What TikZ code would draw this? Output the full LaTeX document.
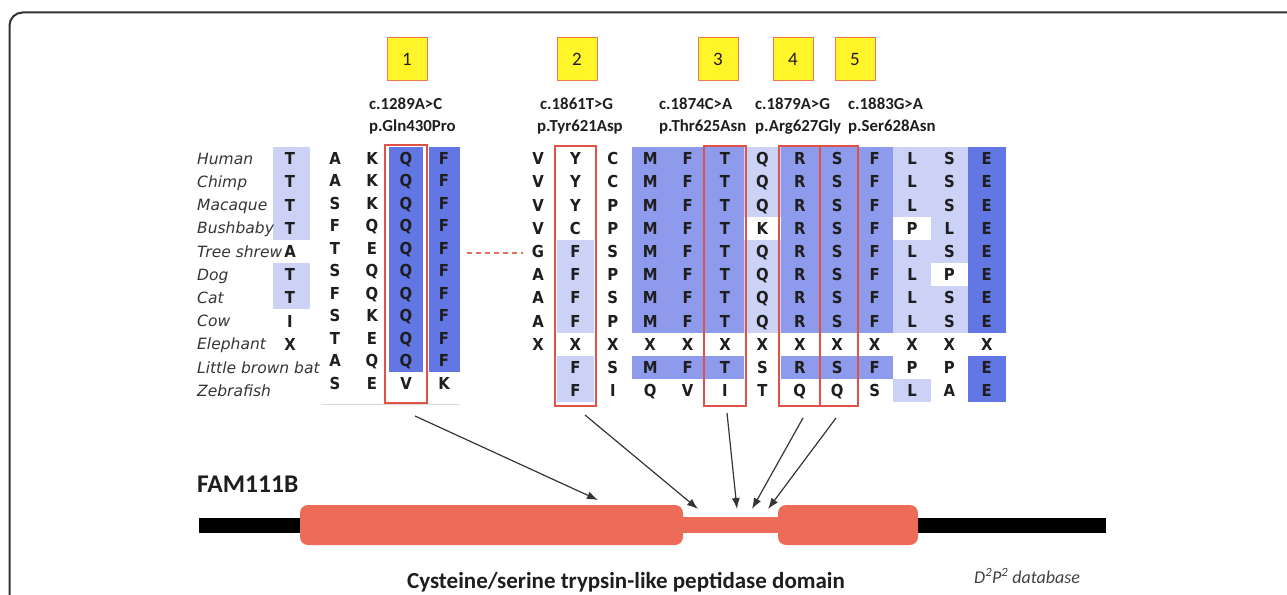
\documentclass[tikz,border=0pt]{standalone}
\usepackage{fontspec}
\setmainfont{Carlito}
\newfontfamily\aafont[FakeStretch=0.9]{DejaVu Sans}
\newfontfamily\spfont{DejaVu Sans}
\usetikzlibrary{arrows.meta}

\definecolor{cellL}{RGB}{204,210,246}
\definecolor{cellM}{RGB}{142,155,236}
\definecolor{cellD}{RGB}{98,118,228}
\definecolor{boxred}{RGB}{224,82,72}
\definecolor{numfill}{RGB}{255,245,40}
\definecolor{numedge}{RGB}{236,120,80}
\definecolor{gene}{RGB}{236,108,88}
\definecolor{framec}{RGB}{50,50,50}
\definecolor{ink}{RGB}{30,30,30}

% column centre of the right-hand alignment block
\newcommand\rcx[1]{538+37.4*(#1)}
% shaded run of cells in the right block: first col, last col, first row, last row, colour
\newcommand\cellrun[5]{\fill[#5] ({\rcx{#1}-18.7},{147+23.2*(#3)}) rectangle ({\rcx{#2}+18.7},{147+23.2*(#4+1)});}

\tikzset{
  aa/.style={font=\aafont\bfseries\fontsize{16.5}{17}\selectfont, text=ink, inner sep=0pt, text height=12pt, text depth=0pt},
  sp/.style={font=\spfont\itshape\fontsize{15.5}{16}\selectfont, text=ink!90, inner sep=0pt, anchor=west, text height=11.3pt, text depth=0pt},
  mut/.style={font=\bfseries\fontsize{16.8}{17}\selectfont, text=ink, inner sep=0pt, anchor=base west},
  numbox/.style={draw=numedge, line width=1pt, fill=numfill, minimum width=40pt, minimum height=42pt, inner sep=0pt, font=\fontsize{19}{20}\selectfont, text=ink},
  redcol/.style={draw=boxred, line width=1.8pt},
  pointer/.style={draw=ink!90, line width=1.2pt, -{Latex[length=11pt,width=8pt]}},
}

\begin{document}
\begin{tikzpicture}[x=1pt,y=-1pt]
\useasboundingbox (0,0) rectangle (1287,594);

% outer frame
\draw[framec, line width=2pt, rounded corners=13pt] (9.5,12.5) rectangle (1310,720);

% ---------- left alignment block: shading ----------
\fill[cellL] (273,147) rectangle (310,{147+23.2*4});
\fill[cellL] (273,{147+23.2*5}) rectangle (310,{147+23.2*7});
\fill[cellD] (389,147) rectangle (423,{147+22.5*10});
\fill[cellD] (429,147) rectangle (460,{147+22.5*10});
\draw[gray!30, line width=0.8pt] (322,404) -- (460,404);

% ---------- right alignment block: shading ----------
\cellrun{3}{5}{0}{7}{cellM}
\cellrun{3}{5}{9}{9}{cellM}
\cellrun{7}{9}{0}{7}{cellM}
\cellrun{7}{9}{9}{9}{cellM}
\cellrun{12}{12}{0}{7}{cellD}
\cellrun{12}{12}{9}{10}{cellD}
\cellrun{1}{1}{4}{7}{cellL}
\cellrun{1}{1}{9}{10}{cellL}
\cellrun{6}{6}{0}{2}{cellL}
\cellrun{6}{6}{4}{7}{cellL}
\cellrun{10}{10}{0}{2}{cellL}
\cellrun{10}{10}{4}{7}{cellL}
\cellrun{10}{10}{10}{10}{cellL}
\cellrun{11}{11}{0}{4}{cellL}
\cellrun{11}{11}{6}{7}{cellL}

% ---------- species names ----------
\foreach \name [count=\i from 0] in {Human,Chimp,Macaque,Bushbaby,Tree shrew,Dog,Cat,Cow,Elephant,Little brown bat,Zebrafish}
  \node[sp] (sp-\i) at (197,{158.6+23.2*\i}) {\name};

% ---------- left block residues ----------
\foreach \ch [count=\i from 0] in {T,T,T,T,A,T,T,I,X}
  \node[aa] (lt-\i) at (290,{158.6+23.2*\i}) {\ch};
\foreach \i/\row in {0/{A,K,Q,F},1/{A,K,Q,F},2/{S,K,Q,F},3/{F,Q,Q,F},4/{T,E,Q,F},5/{S,Q,Q,F},6/{F,Q,Q,F},7/{S,K,Q,F},8/{T,E,Q,F},9/{A,Q,Q,F},10/{S,E,V,K}}
  \foreach \ch [count=\k from 0] in \row {
    \pgfmathsetmacro\lx{{335,372,406,444}[\k]}
    \node[aa] (l-\i-\k) at (\lx,{158.3+22.5*\i}) {\ch};
  }

% ---------- right block residues ----------
\foreach \i/\s/\row in {
  0/0/{V,Y,C,M,F,T,Q,R,S,F,L,S,E},
  1/0/{V,Y,C,M,F,T,Q,R,S,F,L,S,E},
  2/0/{V,Y,P,M,F,T,Q,R,S,F,L,S,E},
  3/0/{V,C,P,M,F,T,K,R,S,F,P,L,E},
  4/0/{G,F,S,M,F,T,Q,R,S,F,L,S,E},
  5/0/{A,F,P,M,F,T,Q,R,S,F,L,P,E},
  6/0/{A,F,S,M,F,T,Q,R,S,F,L,S,E},
  7/0/{A,F,P,M,F,T,Q,R,S,F,L,S,E},
  8/0/{X,X,X,X,X,X,X,X,X,X,X,X,X},
  9/1/{F,S,M,F,T,S,R,S,F,P,P,E},
  10/1/{F,I,Q,V,I,T,Q,Q,S,L,A,E}}
  \foreach \ch [count=\k from \s] in \row
    \node[aa] (r-\i-\k) at ({\rcx{\k}},{158.6+23.2*\i}) {\ch};

% ---------- highlighted columns ----------
\draw[redcol] (385,145) rectangle (427,403);
\draw[redcol] ({\rcx{1}-20.5},146) rectangle ({\rcx{1}+20.5},406);
\draw[redcol] ({\rcx{5}-21},146) rectangle ({\rcx{5}+21},406);
\draw[redcol] ({\rcx{7}-20.5},146) rectangle ({\rcx{7}+20.5},406);
\draw[redcol] ({\rcx{7}+20.5},146) rectangle ({\rcx{8}+20.5},406);

% gap marker between the two blocks
\coordinate (gapA) at (467,253);
\coordinate (gapB) at (523,253);
\draw[boxred!85, line width=1.3pt, dash pattern=on 5pt off 4pt] (gapA) -- (gapB);

% ---------- numbered mutation tags ----------
\node[numbox] (n1) at (407,59) {1};
\node[numbox] (n2) at (577,59) {2};
\node[numbox] (n3) at (718,59) {3};
\node[numbox] (n4) at (793,59) {4};
\node[numbox] (n5) at (855,59) {5};

\node[mut] (c1) at (369,109) {c.1289A>C};
\node[mut] (p1) at (369,131) {p.Gln430Pro};
\node[mut] (c2) at (540,109) {c.1861T>G};
\node[mut] (p2) at (537,131) {p.Tyr621Asp};
\node[mut] (c3) at (659,109) {c.1874C>A};
\node[mut] (p3) at (659,131) {p.Thr625Asn};
\node[mut] (c4) at (755,109) {c.1879A>G};
\node[mut] (p4) at (755,131) {p.Arg627Gly};
\node[mut] (c5) at (848,109) {c.1883G>A};
\node[mut] (p5) at (848,131) {p.Ser628Asn};

% ---------- FAM111B protein ----------
\node[font=\bfseries\fontsize{25.5}{26}\selectfont, text=ink, anchor=base west, inner sep=0pt] (fam) at (197,492) {FAM111B};
\fill[black] (199,518) rectangle (1106,533);
\fill[gene] (678,517) rectangle (784,533);
\fill[gene, rounded corners=8pt] (300,505) rectangle (683,545);
\fill[gene, rounded corners=8pt] (778,505) rectangle (918,545);

\coordinate (t1) at (415,416);  \coordinate (h1) at (598,500);
\coordinate (t2) at (585,415);  \coordinate (h2) at (698,509);
\coordinate (t3) at (727,413);  \coordinate (h3) at (737,509);
\coordinate (t4) at (803,418);  \coordinate (h4) at (752,509);
\coordinate (t5) at (836,418);  \coordinate (h5) at (768,509);
\foreach \j in {1,...,5} \draw[pointer] (t\j) -- (h\j);

\node[font=\bfseries\fontsize{23}{24}\selectfont, text=ink, anchor=base, inner sep=0pt] (dom) at (626,588) {Cysteine/serine trypsin-like peptidase domain};
\node[font=\itshape\fontsize{18}{19}\selectfont, text=ink!85, anchor=base west, inner sep=0pt] (db) at (974,583) {D\textsuperscript{2}P\textsuperscript{2} database};
\end{tikzpicture}
\end{document}
